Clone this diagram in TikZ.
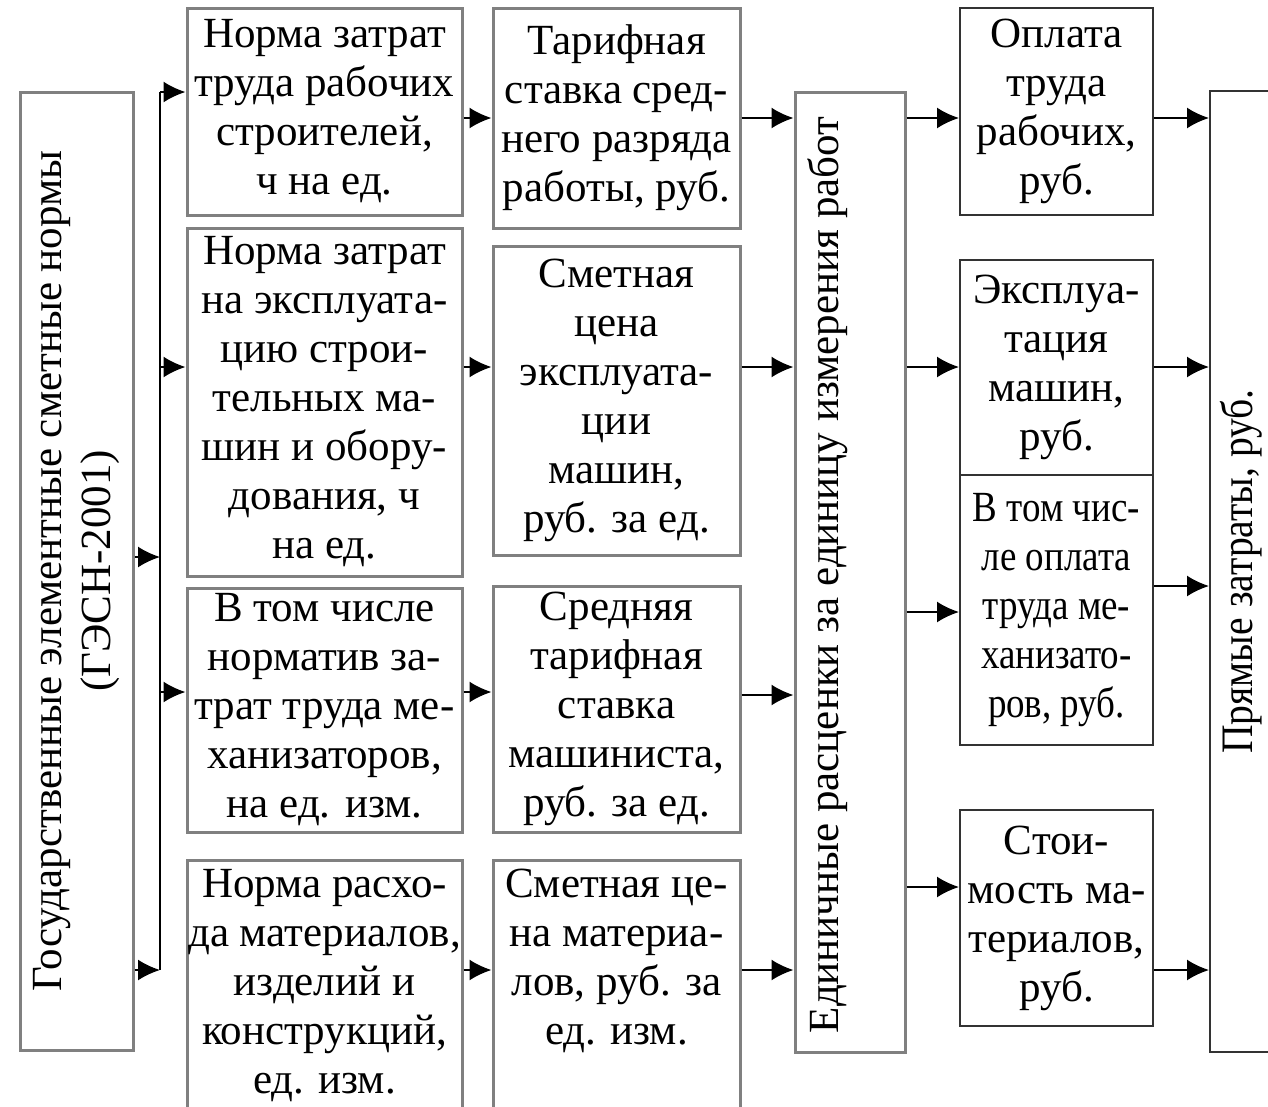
\documentclass[tikz,border=0pt]{standalone}
\usepackage{fontspec}
\setmainfont{Liberation Serif}
\newfontfamily\narrowfont[FakeStretch=0.86]{Liberation Serif}
\newfontfamily\tallfont[FakeStretch=0.88]{Liberation Serif}
\usetikzlibrary{arrows.meta}
\tikzset{
  box/.style={draw=black!50, line width=3pt, inner sep=0pt, align=center,
    font=\fontsize{43}{49}\selectfont},
  rbox/.style={box, draw=black!80, line width=2pt},
  txt/.style={inner sep=0pt, align=center, font=\fontsize{43}{49}\selectfont},
  arr/.style={-{Latex[length=22pt,width=21pt]}, line width=2pt}
}
\begin{document}
\begin{tikzpicture}[x=1pt,y=-1pt]
  \useasboundingbox (0,0) rectangle (1268,1106);
  % source
  \node[box, rotate=90, minimum width=958, minimum height=113] (gesn) at (76.5,571)
    {Государственные элементные сметные нормы\\(ГЭСН-2001)};
  % norms
  \node[box, minimum width=275, minimum height=207] (n1) at (324.5,111.5)
    {Норма затрат\\труда рабочих\\строителей,\\ч на ед.};
  \node[box, minimum width=275, minimum height=348] (n2) at (324.5,402)
    {Норма затрат\\на эксплуата-\\цию строи-\\тельных ма-\\шин и обору-\\дования, ч\\на ед.};
  \node[box, minimum width=275, minimum height=244] (n3) at (324.5,710)
    {В том числе\\норматив за-\\трат труда ме-\\ханизаторов,\\на ед. изм.};
  \node[box, minimum width=275, minimum height=252] (n4) at (324.5,986)
    {Норма расхо-\\да материалов,\\изделий и\\конструкций,\\ед. изм.};
  % prices
  \node[box, minimum width=247, minimum height=220] (p1) at (616.5,118)
    {Тарифная\\ставка сред-\\него разряда\\работы, руб.};
  \node[box, minimum width=247, minimum height=309] (p2) at (616.5,400.5)
    {Сметная\\цена\\эксплуата-\\ции\\машин,\\руб. за ед.};
  \node[box, minimum width=247, minimum height=246] (p3) at (616.5,709)
    {Средняя\\тарифная\\ставка\\машиниста,\\руб. за ед.};
  \node[box, minimum width=247, minimum height=252] (p4) at (616.5,986) {};
  \node[txt] (p4text) at (616.5,961)
    {Сметная це-\\на материа-\\лов, руб. за\\ед. изм.};
  % unit rates
  \node[box, minimum width=110, minimum height=960] (unit) at (850,572) {};
  \node[txt, rotate=90] (unittext) at (828,575)
    {Единичные расценки за единицу измерения работ};
  % costs
  \node[rbox, minimum width=193, minimum height=207] (c1) at (1056.5,111.5)
    {Оплата\\труда\\рабочих,\\руб.};
  \node[rbox, minimum width=193, minimum height=215] (c2) at (1056.5,367.5)
    {Эксплуа-\\тация\\машин,\\руб.};
  \node[rbox, minimum width=193, minimum height=270] (c3) at (1056.5,610)
    {\narrowfont В том чис-\\\narrowfont ле оплата\\\narrowfont труда ме-\\\narrowfont ханизато-\\\narrowfont ров, руб.};
  \node[rbox, minimum width=193, minimum height=216] (c4) at (1056.5,918)
    {Стои-\\мость ма-\\териалов,\\руб.};
  \node[rbox, rotate=90, minimum width=961, minimum height=62] (total) at (1241,571.5)
    {\tallfont\fontsize{45}{49}\selectfont Прямые затраты, руб.};
  % bus
  \coordinate (b1) at (160,92);
  \coordinate (b2) at (160,367);
  \coordinate (b3) at (160,557);
  \coordinate (b4) at (160,692);
  \coordinate (b5) at (160,970);
  \begin{scope}[arr]
    \draw[-] (b1) -- (b5);
    \draw (b1) -- (b1 -| n1.west);
    \draw (b2) -- (b2 -| n2.west);
    \draw (b3 -| gesn.south) -- (b3);
    \draw (b4) -- (b4 -| n3.west);
    \draw (b5 -| gesn.south) -- (b5);
    \draw (n1.east |- 0,118) -- (p1.west |- 0,118);
    \draw (n2.east |- 0,367) -- (p2.west |- 0,367);
    \draw (n3.east |- 0,692) -- (p3.west |- 0,692);
    \draw (n4.east |- 0,970) -- (p4.west |- 0,970);
    \draw (p1.east |- 0,118) -- (unit.west |- 0,118);
    \draw (p2.east |- 0,367) -- (unit.west |- 0,367);
    \draw (p3.east |- 0,695) -- (unit.west |- 0,695);
    \draw (p4.east |- 0,970) -- (unit.west |- 0,970);
    \draw (unit.east |- 0,118) -- (c1.west |- 0,118);
    \draw (unit.east |- 0,367) -- (c2.west |- 0,367);
    \draw (unit.east |- 0,612) -- (c3.west |- 0,612);
    \draw (unit.east |- 0,887) -- (c4.west |- 0,887);
    \draw (c1.east |- 0,118) -- (total.north |- 0,118);
    \draw (c2.east |- 0,367) -- (total.north |- 0,367);
    \draw (c3.east |- 0,586) -- (total.north |- 0,586);
    \draw (c4.east |- 0,970) -- (total.north |- 0,970);
  \end{scope}
\end{tikzpicture}
\end{document}
